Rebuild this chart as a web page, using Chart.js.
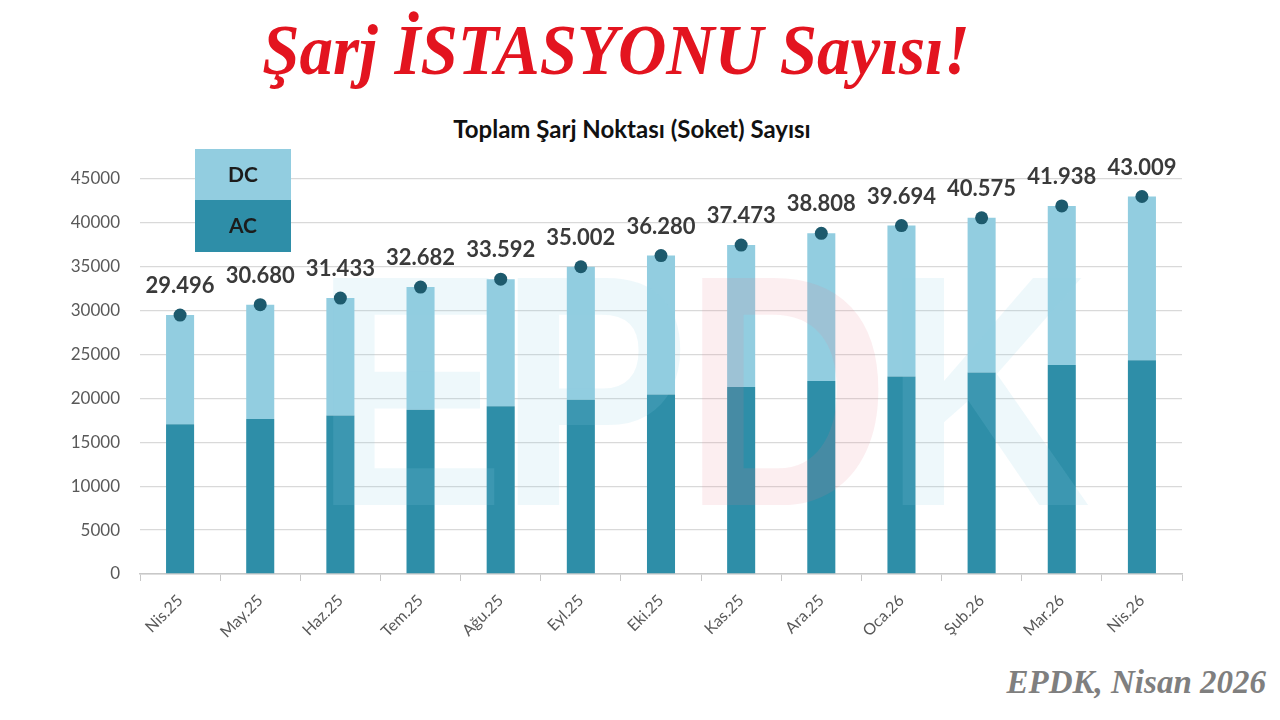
<!DOCTYPE html>
<html>
<head>
<meta charset="utf-8">
<script src="https://cdn.jsdelivr.net/npm/chart.js@4.4.0/dist/chart.umd.min.js"></script>
<style>
  body { margin:0; width:1280px; height:720px; background:#fff; position:relative; overflow:hidden; }
  .main-title { position:absolute; left:0; width:1232px; top:8px; text-align:center;
    font-family:"Liberation Serif", serif; font-weight:bold; font-style:italic;
    font-size:67px; color:#e3141f; transform:scale(1,1.08); transform-origin:center top; }
  .chart-title { position:absolute; left:0; width:1264px; top:114px; text-align:center;
    font-family:Lato, sans-serif; font-weight:bold; font-size:24px; color:#111; }
  .footer { position:absolute; right:14px; top:664px;
    font-family:"Liberation Serif", serif; font-weight:bold; font-style:italic;
    font-size:33px; color:#7f7f7f; }
  #chart { position:absolute; left:0; top:100px; }
</style>
</head>
<body>
<div class="main-title">Şarj İSTASYONU Sayısı!</div>
<div class="chart-title">Toplam Şarj Noktası (Soket) Sayısı</div>
<canvas id="chart" width="1280" height="560"></canvas>
<div class="footer">EPDK, Nisan 2026</div>
<script>
// Months
const months = ['Nis.25','May.25','Haz.25','Tem.25','Ağu.25','Eyl.25','Eki.25','Kas.25','Ara.25','Oca.26','Şub.26','Mar.26','Nis.26'];
// Total sockets (labels on top)
const totals = [29496, 30680, 31433, 32682, 33592, 35002, 36280, 37473, 38808, 39694, 40575, 41938, 43009];
// AC sockets
const acValues = [17050, 17650, 18050, 18700, 19100, 19850, 20450, 21300, 22000, 22500, 22950, 23800, 24350];
// DC = total - AC
const dcValues = totals.map((t, i) => t - acValues[i]);
const yTicks = [0, 5000, 10000, 15000, 20000, 25000, 30000, 35000, 40000, 45000];

const AC_COLOR = '#2e8ea8';
const DC_COLOR = '#92cde0';
const DOT_COLOR = '#1d5a6d';

function fmtTR(v){
    return String(v).replace(/\B(?=(\d{3})+(?!\d))/g, '.');
}

// faint EPDK logo behind the dots
const watermark = {
    id: 'watermark',
    beforeDatasetDraw(chart, args){
        if(args.meta.type !== 'line') return;
        const ctx = chart.ctx;
        ctx.save();
        ctx.font = 'bold 330px "Liberation Sans"';
        ctx.textBaseline = 'alphabetic';
        ctx.translate(314, 405);
        ctx.scale(0.87, 1);
        const letters = [['E','rgba(140,205,228,0.15)'],['P','rgba(140,205,228,0.15)'],['D','rgba(235,120,140,0.13)'],['K','rgba(140,205,228,0.15)']];
        let x = 0;
        letters.forEach(([l, c])=>{
            ctx.fillStyle = c;
            ctx.fillText(l, x, 0);
            x += ctx.measureText(l).width - 8;
        });
        ctx.restore();
    }
};

// value labels above the dots + the DC/AC legend box
const extras = {
    id: 'extras',
    afterDraw(chart){
        const ctx = chart.ctx;
        const meta = chart.getDatasetMeta(0);
        ctx.save();
        ctx.font = 'bold 22px Lato';
        ctx.fillStyle = '#3a3a3a';
        ctx.textAlign = 'center';
        ctx.textBaseline = 'middle';
        meta.data.forEach((pt, i)=>{
            ctx.fillText(fmtTR(totals[i]), pt.x, pt.y - 29);
        });

        const bx = chart.chartArea.left + 55, by = chart.chartArea.top - 30, bw = 96, bh = 51;
        ctx.fillStyle = DC_COLOR;
        ctx.fillRect(bx, by, bw, bh);
        ctx.fillStyle = AC_COLOR;
        ctx.fillRect(bx, by + bh, bw, bh + 1);
        ctx.fillStyle = '#1c1c1c';
        ctx.font = 'bold 21px Lato';
        ctx.fillText('DC', bx + bw/2, by + bh/2 + 1);
        ctx.fillText('AC', bx + bw/2, by + bh + bh/2 + 1);
        ctx.restore();
    }
};

new Chart(document.getElementById('chart'), {
    type: 'bar',
    data: {
        labels: months,
        datasets: [
            { type:'line', label:'Toplam', data: totals, showLine:false, stack:'total',
              pointRadius:6.5, pointHoverRadius:6.5, pointBackgroundColor:DOT_COLOR, pointBorderWidth:0, order:0 },
            { label:'AC', data: acValues, backgroundColor: AC_COLOR, stack:'s', order:1,
              barPercentage:0.35, categoryPercentage:1 },
            { label:'DC', data: dcValues, backgroundColor: DC_COLOR, stack:'s', order:1,
              barPercentage:0.35, categoryPercentage:1 }
        ]
    },
    options: {
        responsive:false,
        devicePixelRatio:1,
        animation:false,
        layout:{ padding:{ left:0, right:98, top:79, bottom:6 } },
        plugins:{ legend:{ display:false }, tooltip:{ enabled:false } },
        scales:{
            x:{
                stacked:true,
                afterFit(scale){ scale.height = 80; },
                grid:{ drawOnChartArea:false, tickLength:7, color:'#c8c8c8' },
                border:{ color:'#c8c8c8', width:1.5 },
                ticks:{ maxRotation:45, minRotation:45, color:'#595959', font:{ family:'Lato', size:16 }, padding:10 }
            },
            y:{
                stacked:true,
                min:0, max:45000,
                afterFit(scale){ scale.width = 140; },
                afterBuildTicks(scale){ scale.ticks = yTicks.map(v=>({ value:v })); },
                grid:{ color:'#d9d9d9', lineWidth:1.3, drawTicks:false },
                border:{ display:false },
                ticks:{ color:'#595959', font:{ family:'Lato', size:17 }, padding:20, callback:(v)=>String(v) }
            }
        }
    },
    plugins:[watermark, extras]
});
</script>
</body>
</html>
